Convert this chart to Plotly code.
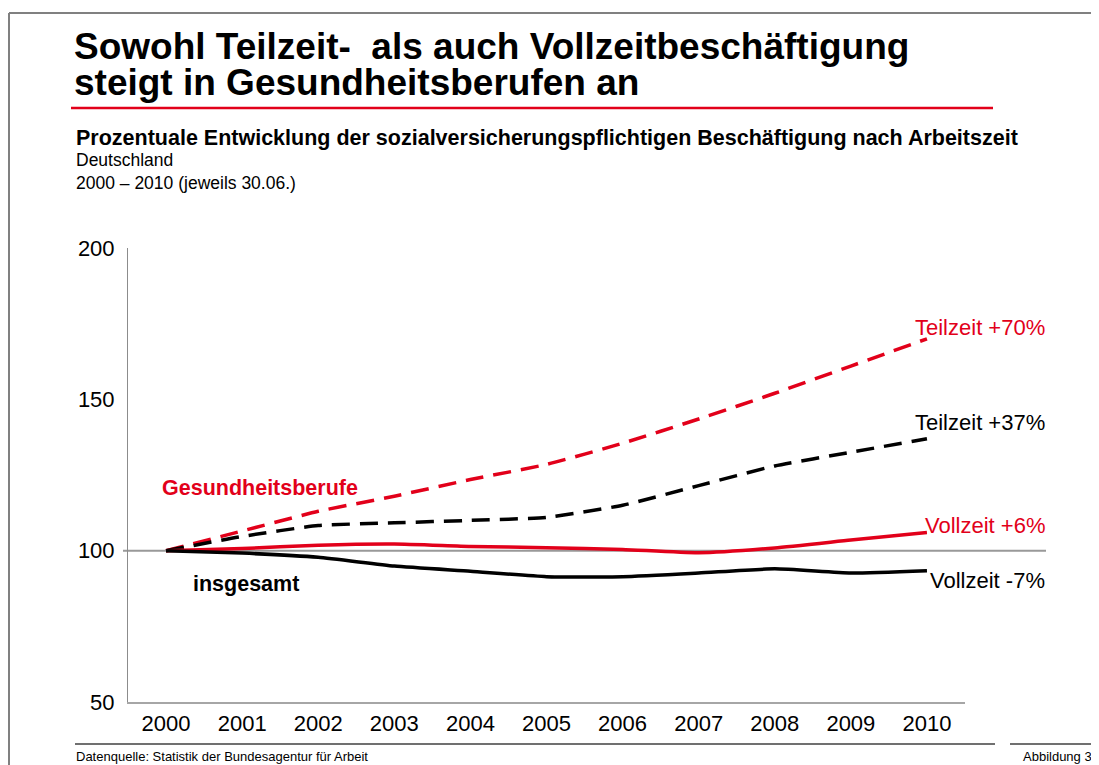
import plotly.graph_objects as go

years = ["2000", "2001", "2002", "2003", "2004", "2005", "2006", "2007", "2008", "2009", "2010"]
teilzeit_gesundheit = [100, 106.5, 113, 118, 123.5, 128.5, 135.5, 143.5, 152, 161, 170]
teilzeit_insgesamt = [100, 104.7, 108.3, 109.2, 110, 111, 115, 121.5, 128, 132.5, 137]
vollzeit_gesundheit = [100, 100.7, 101.8, 102.2, 101.4, 101, 100.4, 99.3, 100.9, 103.5, 106]
vollzeit_insgesamt = [100, 99.2, 97.8, 94.9, 93.2, 91.4, 91.4, 92.6, 94, 92.6, 93.4]
y_ticks = [50, 100, 150, 200]

RED = "#E2001A"
FONT = "Liberation Sans, Arial, sans-serif"

# page body has an 8px margin; compensate so the picture lines up with the target
OFF = 8
W, H = 1099 - OFF, 765 - OFF
L, R, T, B = 128 - OFF, 965 - OFF, 248 - OFF, 702 - OFF


def px(x):
    return (x - OFF - L) / (R - L)


def py(y):
    return (B - (y - OFF)) / (B - T)


fig = go.Figure()
series = [
    (teilzeit_gesundheit, RED, "dash"),
    (teilzeit_insgesamt, "black", "dash"),
    (vollzeit_gesundheit, RED, "solid"),
    (vollzeit_insgesamt, "black", "solid"),
]
for vals, col, dash in series:
    fig.add_trace(go.Scatter(
        x=years, y=vals, mode="lines",
        line=dict(color=col, width=3.5, dash="solid" if dash == "solid" else "18px,10px",
                  shape="spline", smoothing=0.5),
        showlegend=False, hoverinfo="skip",
    ))

fig.update_layout(
    width=W, height=H,
    margin=dict(l=L, r=W - R, t=T, b=H - B, pad=0),
    paper_bgcolor="white", plot_bgcolor="white",
    font=dict(family=FONT, color="black"),
    xaxis=dict(type="category", range=[-0.5, 10.5], showgrid=False, zeroline=False,
               showline=True, linecolor="#A6A6A6", linewidth=1.5,
               ticks="outside", ticklen=1, tickcolor="rgba(0,0,0,0)",
               tickfont=dict(size=22, family=FONT, color="black")),
    yaxis=dict(range=[50, 200], tickvals=y_ticks, showgrid=False, zeroline=False,
               showline=True, linecolor="#8C8C8C", linewidth=1,
               ticks="outside", ticklen=8, tickcolor="rgba(0,0,0,0)",
               tickfont=dict(size=22, family=FONT, color="black")),
)

shapes = [
    # 100 reference line
    dict(type="line", xref="paper", yref="y", x0=px(123), x1=px(1046), y0=100, y1=100,
         line=dict(color="#999999", width=2), layer="below"),
    # frame
    dict(type="line", xref="paper", yref="paper", x0=px(9), x1=px(9), y0=py(13), y1=py(770),
         line=dict(color="#808080", width=2)),
    dict(type="line", xref="paper", yref="paper", x0=px(9), x1=px(1110), y0=py(13), y1=py(13),
         line=dict(color="#808080", width=2)),
    # red title underline
    dict(type="line", xref="paper", yref="paper", x0=px(71), x1=px(993), y0=py(108), y1=py(108),
         line=dict(color=RED, width=2.5)),
    # footer separators
    dict(type="line", xref="paper", yref="paper", x0=px(75), x1=px(995), y0=py(744), y1=py(744),
         line=dict(color="#404040", width=1.5)),
    dict(type="line", xref="paper", yref="paper", x0=px(1010), x1=px(1110), y0=py(744), y1=py(744),
         line=dict(color="#404040", width=1.5)),
]
fig.update_layout(shapes=shapes)


def ann(text, x, y, size, color="black", bold=False, xanchor="left"):
    t = f"<b>{text}</b>" if bold else text
    fig.add_annotation(text=t, x=x, y=y, xref="paper", yref="paper", xanchor=xanchor, yanchor="middle",
                       showarrow=False, font=dict(size=size, color=color, family=FONT))


ann("Sowohl Teilzeit-\u00a0 als auch Vollzeitbeschäftigung", px(72), py(46), 37, bold=True)
ann("steigt in Gesundheitsberufen an", px(72), py(83), 37, bold=True)
ann("Prozentuale Entwicklung der sozialversicherungspflichtigen Beschäftigung nach Arbeitszeit",
    px(74), py(138), 21.5, bold=True)
ann("Deutschland", px(74), py(160), 17.5)
ann("2000 – 2010 (jeweils 30.06.)", px(74), py(183), 17.5)

ann("Gesundheitsberufe", px(160), py(488), 21.5, color=RED, bold=True)
ann("insgesamt", px(191), py(584), 21.5, bold=True)

ann("Teilzeit\u00a0+70%", px(1047), py(327), 22, color=RED, xanchor="right")
ann("Teilzeit\u00a0+37%", px(1047), py(422), 22, xanchor="right")
ann("Vollzeit\u00a0+6%", px(1047), py(525), 22, color=RED, xanchor="right")
ann("Vollzeit\u00a0-7%", px(1047), py(580), 22, xanchor="right")

ann("Datenquelle: Statistik der Bundesagentur für Arbeit", px(74), py(756), 13)
ann("Abbildung 3", px(1094), py(756), 13, xanchor="right")

fig.write_html("out.html")
